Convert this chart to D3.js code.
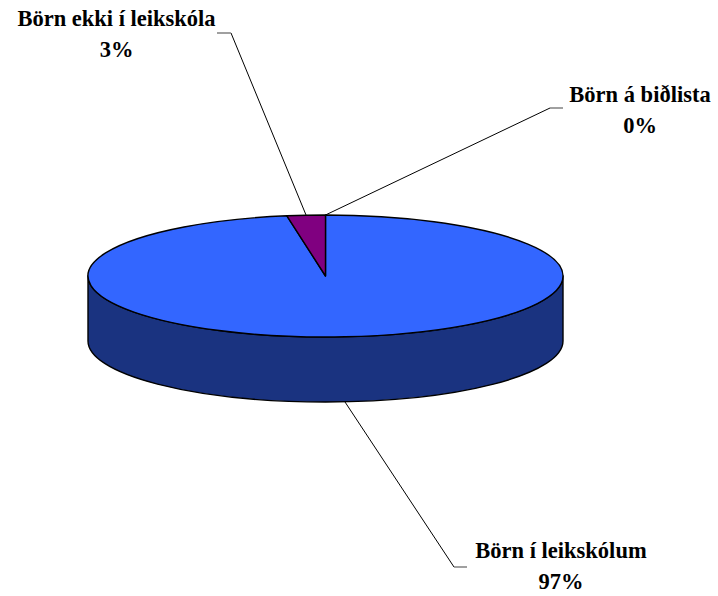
<!DOCTYPE html>
<html><head><meta charset="utf-8">
<script src="https://cdn.jsdelivr.net/npm/d3@7"></script>
</head><body style="margin:0">
<svg id="c" width="718" height="596" style="display:block;background:#fff"></svg>
<script>
const categories = ["Börn í leikskólum", "Börn ekki í leikskóla", "Börn á biðlista"];
const values = [97.4, 2.6, 0.0];
const pctLabels = ["97%", "3%", "0%"];
const topColors = ["#3366FF", "#800080", "#C0C0C0"];
const sideColors = ["#1A3380", "#400040", "#606060"];

const cx = 325.5, cy = 276, rx = 237.5, ry = 61, depth = 65;
const svg = d3.select("#c");

const pie = d3.pie().sort(null).value(d => d)(values);
const P = (a, z) => [cx + rx * Math.sin(a), cy - ry * Math.cos(a) + z];

const g = svg.append("g").attr("stroke", "#000").attr("stroke-width", 1.4).attr("stroke-linejoin", "round");
pie.forEach((s, i) => {
  const b0 = Math.max(s.startAngle, Math.PI / 2), b1 = Math.min(s.endAngle, 3 * Math.PI / 2);
  if (b1 <= b0) return;
  const p0 = P(b0, 0), p1 = P(b1, 0), q1 = P(b1, depth), q0 = P(b0, depth);
  const la = (b1 - b0) > Math.PI ? 1 : 0;
  const d = `M${p0}A${rx},${ry} 0 ${la} 1 ${p1}L${q1}A${rx},${ry} 0 ${la} 0 ${q0}Z`;
  g.append("path").attr("d", d).attr("fill", sideColors[i]);
});
pie.forEach((s, i) => {
  if (s.endAngle - s.startAngle <= 0) return;
  const p0 = P(s.startAngle, 0), p1 = P(s.endAngle, 0);
  const la = (s.endAngle - s.startAngle) > Math.PI ? 1 : 0;
  const d = `M${cx},${cy}L${p0}A${rx},${ry} 0 ${la} 1 ${p1}Z`;
  g.append("path").attr("d", d).attr("fill", topColors[i]);
});

const labelPos = [
  {x: 561, y: 558, hx0: 454, hx1: 467, hy: 567},
  {x: 116.5, y: 26, hx0: 217, hx1: 231, hy: 33},
  {x: 640, y: 102, hx0: 550, hx1: 563, hy: 108}
];
pie.forEach((s, i) => {
  const mid = (s.startAngle + s.endAngle) / 2;
  const front = Math.cos(mid) < 0;
  const anchor = P(mid, front ? depth : 0);
  const lp = labelPos[i];
  const elbow = lp.x > anchor[0] ? [lp.hx0, lp.hy] : [lp.hx1, lp.hy];
  const end = lp.x > anchor[0] ? [lp.hx1, lp.hy] : [lp.hx0, lp.hy];
  svg.append("path")
    .attr("d", `M${anchor}L${elbow}`)
    .attr("fill", "none").attr("stroke", "#000").attr("stroke-width", 1);
  svg.append("path")
    .attr("d", `M${elbow}L${end}`)
    .attr("fill", "none").attr("stroke", "#808080").attr("stroke-width", 1.5);
  [categories[i], pctLabels[i]].forEach((txt, k) => {
    svg.append("text")
      .attr("x", lp.x).attr("y", lp.y + k * 30.5)
      .attr("text-anchor", "middle").attr("fill", "#000")
      .attr("font-family", "Times New Roman")
      .style("font-family", '"Times New Roman", "Liberation Serif", Tinos, serif')
      .style("font-weight", "bold")
      .style("font-size", "22.5px")
      .text(txt);
  });
});
</script>
</body></html>
